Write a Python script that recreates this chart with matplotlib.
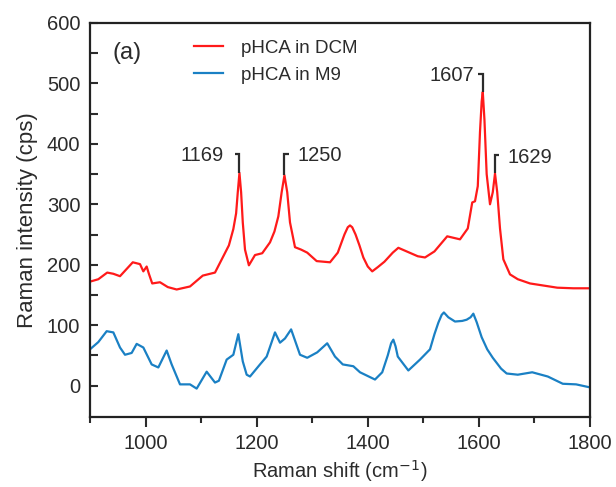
import numpy as np
import matplotlib
matplotlib.use('Agg')
import matplotlib.pyplot as plt
from matplotlib.ticker import MultipleLocator, FixedLocator

plt.rcParams['font.family'] = ['Liberation Sans', 'DejaVu Sans']

# ── DATA ─────────────────────────────────────────────────────────────────────
dcm_shift = [900, 915, 931, 942, 954, 965, 977, 990, 996, 1002, 1006, 1012, 1026,
             1040, 1056, 1080, 1103, 1125, 1140, 1150, 1158, 1163, 1166, 1169,
             1172, 1175, 1179, 1186, 1197, 1210, 1224, 1232, 1239, 1245, 1250,
             1255, 1260, 1269, 1280, 1291, 1308, 1332, 1346, 1352, 1358, 1364,
             1368, 1372, 1378, 1385, 1392, 1400, 1408, 1418, 1430, 1445, 1455,
             1465, 1480, 1490, 1503, 1520, 1543, 1566, 1580, 1588, 1593, 1598,
             1602, 1605, 1607, 1610, 1614, 1620, 1625, 1629, 1633, 1638, 1644,
             1656, 1670, 1692, 1720, 1741, 1770, 1800]
dcm_int = [172, 176, 187, 185, 181, 192, 204, 201, 189, 197, 185, 169, 171,
           163, 159, 164, 182, 187, 214, 232, 259, 285, 320, 352,
           320, 270, 225, 199, 216, 219, 237, 255, 280, 320, 348,
           320, 270, 229, 225, 220, 206, 204, 220, 235, 250, 262,
           265, 262, 250, 232, 212, 197, 189, 196, 205, 220, 228,
           224, 218, 214, 212, 222, 247, 242, 260, 303, 305, 330,
           420, 470, 486, 440, 350, 300, 320, 351, 320, 260, 209,
           184, 176, 169, 165, 162, 161, 161]

m9_shift = [900, 915, 930, 942, 954, 963, 975, 984, 996, 1011, 1023, 1038, 1047,
            1062, 1080, 1092, 1110, 1125, 1132, 1146, 1158, 1167, 1175, 1182,
            1188, 1206, 1218, 1233, 1242, 1251, 1262, 1278, 1291, 1309, 1327,
            1341, 1355, 1374, 1386, 1413, 1426, 1436, 1442, 1446, 1450, 1454,
            1473, 1494, 1512, 1520, 1527, 1533, 1537, 1545, 1557, 1570, 1578,
            1585, 1590, 1596, 1605, 1615, 1625, 1640, 1650, 1670, 1696,
            1724, 1751, 1775, 1800]
m9_int = [60, 72, 90, 88, 63, 51, 54, 69, 63, 35, 30, 58, 35,
          2, 2, -5, 23, 5, 8, 43, 51, 85, 40, 18,
          15, 35, 48, 88, 71, 78, 93, 51, 46, 55, 70,
          48, 35, 32, 22, 10, 22, 50, 70, 76, 65, 48,
          25, 43, 60, 85, 104, 117, 121, 113, 106, 107, 109,
          113, 119, 105, 80, 60, 46, 28, 20, 18, 22,
          15, 3, 2, -3]

# peak labels: position, peak height, bracket top, side of the label
peak_pos = [1169, 1250, 1607, 1629]
peak_top = [352, 348, 486, 351]
bracket_top = [383, 383, 516, 381]
label_side = ['left', 'right', 'left', 'right']
label_x = [1141, 1273, 1592, 1652]

RED = '#ff1a1a'
BLUE = '#1a80c4'
TXT = '#2b2b2b'

fig = plt.figure(figsize=(6.16, 4.87), dpi=100)
ax = fig.add_axes([90 / 616, 1 - 417 / 487, 500 / 616, 394 / 487])

ax.plot(dcm_shift, dcm_int, color=RED, lw=1.6, label='pHCA in DCM')
ax.plot(m9_shift, m9_int, color=BLUE, lw=1.6, label='pHCA in M9')

# ── peak brackets ────────────────────────────────────────────────────────────
for x, y0, y1, side, tx in zip(peak_pos, peak_top, bracket_top, label_side, label_x):
    dx = -8 if side == 'left' else 8
    ax.plot([x, x, x + dx], [y0, y1, y1], color=TXT, lw=1.6,
            solid_joinstyle='miter', solid_capstyle='butt')
    ax.text(tx, y1 - 3, str(x), ha='right' if side == 'left' else 'left',
            va='center', fontsize=14.5, color=TXT)

ax.text(0.045, 0.925, '(a)', transform=ax.transAxes, fontsize=17, color=TXT,
        va='center')
leg = ax.legend(loc='upper left', bbox_to_anchor=(0.175, 1.0), frameon=False,
                fontsize=13.5, handlelength=1.5, handletextpad=1.0,
                labelspacing=0.5)
for t in leg.get_texts():
    t.set_color(TXT)

ax.set_xlim(900, 1800)
ax.set_ylim(-52, 600)
ax.xaxis.set_major_locator(MultipleLocator(200))
ax.xaxis.set_minor_locator(MultipleLocator(100))
ax.yaxis.set_major_locator(MultipleLocator(100))
ax.yaxis.set_minor_locator(FixedLocator(range(50, 600, 100)))
ax.tick_params(axis='y', which='both', direction='in', right=False, labelsize=14.5,
               colors=TXT, pad=7, length=6, width=1.5)
ax.tick_params(axis='x', which='both', direction='out', top=False, labelsize=14.5,
               colors=TXT, pad=5)
ax.tick_params(axis='x', which='major', length=7, width=1.5)
ax.tick_params(axis='x', which='minor', length=4, width=1.5)
for s in ax.spines.values():
    s.set_linewidth(1.6)
    s.set_color('#222222')

ax.set_xlabel('Raman shift (cm$^{-1}$)', fontsize=14.5, color=TXT, labelpad=4)
ax.set_ylabel('Raman intensity (cps)', fontsize=16, color=TXT, labelpad=6)

fig.savefig('out.png', dpi=100)
